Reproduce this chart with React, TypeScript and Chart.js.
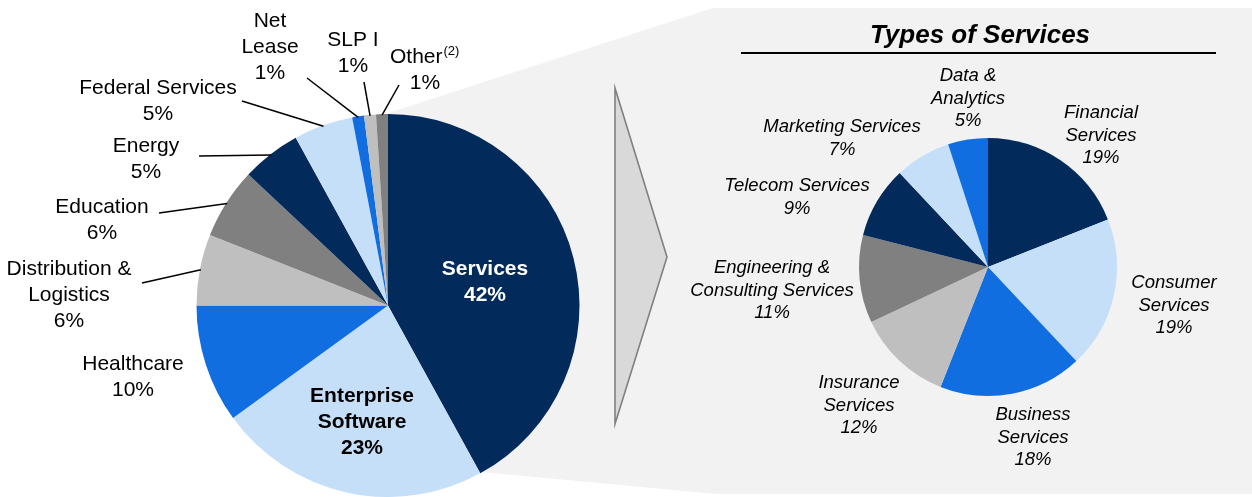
import React, { useEffect, useRef } from "react";
import { Chart, registerables } from "chart.js";

Chart.register(...registerables);

const NAVY = "#022B5C";
const LIGHT = "#C6DFF8";
const BLUE = "#116EE0";
const LGRAY = "#BFBFBF";
const GRAY = "#808080";

const sectorLabels: (string | string[])[] = [
  ["Services"],
  ["Enterprise", "Software"],
  ["Healthcare"],
  ["Distribution &", "Logistics"],
  ["Education"],
  ["Energy"],
  ["Federal Services"],
  ["Net", "Lease"],
  ["SLP I"],
  ["Other"],
];
const sectorValues = [42, 23, 10, 6, 6, 5, 5, 1, 1, 1];
const sectorColors = [NAVY, LIGHT, BLUE, LGRAY, GRAY, NAVY, LIGHT, BLUE, LGRAY, GRAY];

const serviceLabels: (string | string[])[] = [
  ["Financial", "Services"],
  ["Consumer", "Services"],
  ["Business", "Services"],
  ["Insurance", "Services"],
  ["Engineering &", "Consulting Services"],
  ["Telecom Services"],
  ["Marketing Services"],
  ["Data &", "Analytics"],
];
const serviceValues = [19, 19, 18, 12, 11, 9, 7, 5];
const serviceColors = [NAVY, LIGHT, BLUE, LGRAY, GRAY, NAVY, LIGHT, BLUE];

const titleText = "Types of Services";
const otherFootnote = "(2)";

const FONT = '"Liberation Sans", Arial, sans-serif';

type LabelPos = { x: number; y: number; bold?: boolean; color?: string; line?: [number, number] };

// label placement (style only)
const leftPos: LabelPos[] = [
  { x: 485, y: 275, bold: true, color: "#FFFFFF" },
  { x: 362, y: 402, bold: true },
  { x: 133, y: 370 },
  { x: 69, y: 275, line: [142, 283] },
  { x: 102, y: 213, line: [159, 213] },
  { x: 146, y: 152, line: [199, 156] },
  { x: 158, y: 94, line: [242, 101] },
  { x: 270, y: 27, line: [307, 78] },
  { x: 353, y: 46, line: [364, 82] },
  { x: 425, y: 63, line: [399, 85] },
];

const rightPos: LabelPos[] = [
  { x: 1101, y: 118 },
  { x: 1174, y: 288 },
  { x: 1033, y: 420 },
  { x: 859, y: 388 },
  { x: 772, y: 273 },
  { x: 797, y: 191 },
  { x: 842, y: 132 },
  { x: 968, y: 81 },
];

const backgroundPlugin = {
  id: "bgPanel",
  beforeDraw(chart: any) {
    const ctx = chart.ctx as CanvasRenderingContext2D;
    ctx.save();
    // zoom panel
    ctx.fillStyle = "#F2F2F2";
    ctx.beginPath();
    ctx.moveTo(388, 306);
    ctx.lineTo(388, 113);
    ctx.lineTo(713, 8);
    ctx.lineTo(1252, 8);
    ctx.lineTo(1252, 494);
    ctx.lineTo(717, 494);
    ctx.lineTo(481, 472);
    ctx.closePath();
    ctx.fill();
    // chevron
    ctx.fillStyle = "#D9D9D9";
    ctx.strokeStyle = "#808080";
    ctx.lineWidth = 1.6;
    ctx.beginPath();
    ctx.moveTo(615, 88);
    ctx.lineTo(667, 257);
    ctx.lineTo(615, 424);
    ctx.closePath();
    ctx.fill();
    ctx.stroke();
    // title
    ctx.fillStyle = "#000";
    ctx.font = `italic bold 26px ${FONT}`;
    ctx.textAlign = "center";
    ctx.textBaseline = "alphabetic";
    ctx.fillText(titleText, 980, 43);
    ctx.strokeStyle = "#000";
    ctx.lineWidth = 2;
    ctx.beginPath();
    ctx.moveTo(741, 53);
    ctx.lineTo(1216, 53);
    ctx.stroke();
    ctx.restore();
  },
};

function makeLabelPlugin(id: string, labels: (string | string[])[], values: number[], pos: LabelPos[], size: number, lh: number, italic: boolean) {
  return {
    id,
    afterDraw(chart: any) {
      const ctx = chart.ctx as CanvasRenderingContext2D;
      const meta = chart.getDatasetMeta(0);
      ctx.save();
      ctx.textAlign = "center";
      ctx.textBaseline = "alphabetic";
      labels.forEach((lab, i) => {
        const p = pos[i];
        const arc = meta.data[i] as any;
        const lines = (Array.isArray(lab) ? lab : [lab]).slice();
        lines.push(`${values[i]}%`);
        if (p.line && arc) {
          const { x, y, startAngle, endAngle, outerRadius } = arc.getProps(["x", "y", "startAngle", "endAngle", "outerRadius"], true);
          const mid = (startAngle + endAngle) / 2;
          const ex = x + Math.cos(mid) * (outerRadius - 1);
          const ey = y + Math.sin(mid) * (outerRadius - 1);
          ctx.strokeStyle = "#000";
          ctx.lineWidth = 1.5;
          ctx.beginPath();
          ctx.moveTo(p.line[0], p.line[1]);
          ctx.lineTo(ex, ey);
          ctx.stroke();
        }
        ctx.fillStyle = p.color || "#000";
        ctx.font = `${italic ? "italic " : ""}${p.bold ? "bold " : ""}${size}px ${FONT}`;
        if (id === "leftLabels" && i === 9) {
          // Other with footnote superscript
          ctx.textAlign = "left";
          ctx.fillText(lines[0], 390, p.y);
          const w = ctx.measureText(lines[0]).width;
          ctx.font = `13px ${FONT}`;
          ctx.fillText(otherFootnote, 390 + w + 1, p.y - 8);
          ctx.font = `${size}px ${FONT}`;
          ctx.textAlign = "center";
          ctx.fillText(lines[1], p.x, p.y + lh);
          return;
        }
        lines.forEach((t, k) => ctx.fillText(t, p.x, p.y + k * lh));
      });
      ctx.restore();
    },
  };
}

const leftLabelPlugin = makeLabelPlugin("leftLabels", sectorLabels, sectorValues, leftPos, 21, 26, false);
const rightLabelPlugin = makeLabelPlugin("rightLabels", serviceLabels, serviceValues, rightPos, 18.5, 22.5, true);

export default function App() {
  const leftRef = useRef<HTMLCanvasElement>(null);
  const rightRef = useRef<HTMLCanvasElement>(null);

  useEffect(() => {
    const left = new Chart(leftRef.current as HTMLCanvasElement, {
      type: "pie",
      data: {
        labels: sectorLabels as any,
        datasets: [{ data: sectorValues, backgroundColor: sectorColors, borderWidth: 0 }],
      },
      options: {
        responsive: false,
        animation: false,
        layout: { padding: { left: 196, right: 672, top: 114, bottom: 0 } },
        plugins: { legend: { display: false }, tooltip: { enabled: false } },
      },
      plugins: [backgroundPlugin, leftLabelPlugin],
    });
    const right = new Chart(rightRef.current as HTMLCanvasElement, {
      type: "pie",
      data: {
        labels: serviceLabels as any,
        datasets: [{ data: serviceValues, backgroundColor: serviceColors, borderWidth: 0 }],
      },
      options: {
        responsive: false,
        animation: false,
        layout: { padding: { left: 859, right: 135, top: 138, bottom: 101 } },
        plugins: { legend: { display: false }, tooltip: { enabled: false } },
      },
      plugins: [rightLabelPlugin],
    });
    return () => {
      left.destroy();
      right.destroy();
    };
  }, []);

  const cs: React.CSSProperties = { position: "absolute", left: 0, top: 0, width: 1252, height: 497 };
  return (
    <div style={{ position: "absolute", left: 0, top: 0, width: 1252, height: 497, background: "#fff", overflow: "hidden" }}>
      <canvas ref={leftRef} width={1252} height={497} style={cs} />
      <canvas ref={rightRef} width={1252} height={497} style={cs} />
    </div>
  );
}
